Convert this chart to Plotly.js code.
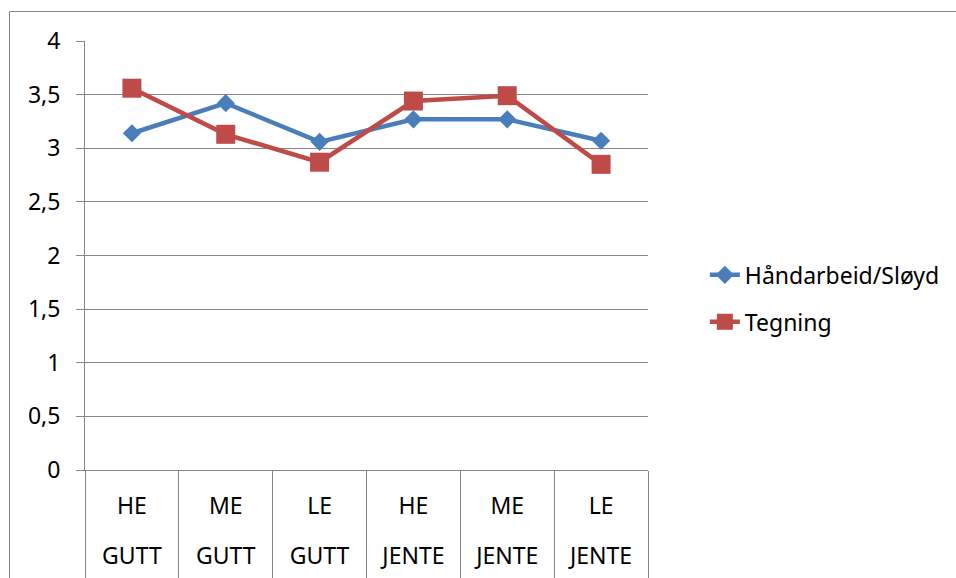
<!DOCTYPE html>
<html>
<head>
<meta charset="utf-8">
<script src="https://cdn.plot.ly/plotly-3.0.1.min.js"></script>
<style>html,body{margin:0;padding:0;background:#fff;}#chart{width:956px;height:578px;}</style>
</head>
<body>
<div id="chart"></div>
<script>
// Data
const categories = ['HE GUTT', 'ME GUTT', 'LE GUTT', 'HE JENTE', 'ME JENTE', 'LE JENTE'];
const levelLabels = ['HE', 'ME', 'LE', 'HE', 'ME', 'LE'];
const groupLabels = ['GUTT', 'GUTT', 'GUTT', 'JENTE', 'JENTE', 'JENTE'];
const handarbeid = [3.14, 3.42, 3.06, 3.27, 3.27, 3.07];
const tegning = [3.56, 3.13, 2.87, 3.44, 3.49, 2.85];
const yTicks = [0, 0.5, 1, 1.5, 2, 2.5, 3, 3.5, 4];

const GRID = '#868686';
const noValues = categories.map(() => null);

const traces = [
  {
    x: categories, y: handarbeid, name: 'Håndarbeid/Sløyd', type: 'scatter', mode: 'lines+markers',
    line: {color: '#4A7EBB', width: 4.5},
    marker: {symbol: 'diamond', size: 14, color: '#4A7EBB'},
    legendgroup: 'a'
  },
  {
    x: categories, y: tegning, name: 'Tegning', type: 'scatter', mode: 'lines+markers',
    line: {color: '#BE4B48', width: 4.5},
    marker: {symbol: 'square', size: 19, color: '#BE4B48'},
    legendgroup: 'b'
  },
  // carriers for the second label row and the category divider ticks (no visible marks)
  {x: categories, y: noValues, xaxis: 'x2', yaxis: 'y', type: 'scatter', mode: 'lines',
   showlegend: false, hoverinfo: 'skip', line: {width: 0}},
  {x: categories, y: noValues, xaxis: 'x3', yaxis: 'y', type: 'scatter', mode: 'lines',
   showlegend: false, hoverinfo: 'skip', line: {width: 0}}
];

const layout = {
  width: 956, height: 578,
  margin: {l: 85, r: 308, t: 41, b: 108, pad: 0, autoexpand: false},
  paper_bgcolor: '#fff', plot_bgcolor: '#fff',
  font: {family: 'Noto Sans, sans-serif', size: 23, color: '#000'},
  separators: ', ',
  hovermode: false,
  showlegend: true,
  legend: {
    x: 1.101, xanchor: 'left', y: 0.40, yanchor: 'middle',
    font: {size: 23, color: '#000'},
    traceorder: 'grouped', tracegroupgap: 14,
    bgcolor: 'rgba(0,0,0,0)', borderwidth: 0
  },
  xaxis: {
    type: 'category', categoryorder: 'array', categoryarray: categories,
    range: [-0.5, 5.5], fixedrange: true,
    tickvals: categories, ticktext: levelLabels,
    ticks: '', showgrid: false, zeroline: false,
    showline: true, linecolor: GRID, linewidth: 1,
    ticklabelstandoff: 15
  },
  xaxis2: {
    type: 'category', categoryorder: 'array', categoryarray: categories,
    overlaying: 'x', anchor: 'y', side: 'bottom',
    range: [-0.5, 5.5], fixedrange: true,
    tickvals: categories, ticktext: groupLabels,
    ticks: '', showgrid: false, zeroline: false, showline: false,
    ticklabelstandoff: 70
  },
  xaxis3: {
    type: 'category', categoryorder: 'array', categoryarray: categories,
    overlaying: 'x', anchor: 'y', side: 'bottom',
    range: [-0.5, 5.5], fixedrange: true,
    ticks: 'outside', tickson: 'boundaries', ticklen: 108, tickwidth: 1, tickcolor: GRID,
    showticklabels: false, showgrid: false, zeroline: false, showline: false
  },
  yaxis: {
    range: [0, 4], tickvals: yTicks, fixedrange: true,
    showgrid: true, gridcolor: GRID, gridwidth: 1,
    zeroline: false, showline: true, linecolor: GRID, linewidth: 1,
    ticks: 'outside', ticklen: 8, tickcolor: GRID, tickwidth: 1,
    ticklabelstandoff: 11
  },
  shapes: [
    {type: 'rect', xref: 'paper', yref: 'paper', x0: -0.1341, x1: 1.70, y0: -0.40, y1: 1.0688,
     line: {color: GRID, width: 1}, fillcolor: 'rgba(0,0,0,0)', layer: 'below'}
  ]
};

Plotly.newPlot('chart', traces, layout, {displayModeBar: false, staticPlot: true});
</script>
</body>
</html>
